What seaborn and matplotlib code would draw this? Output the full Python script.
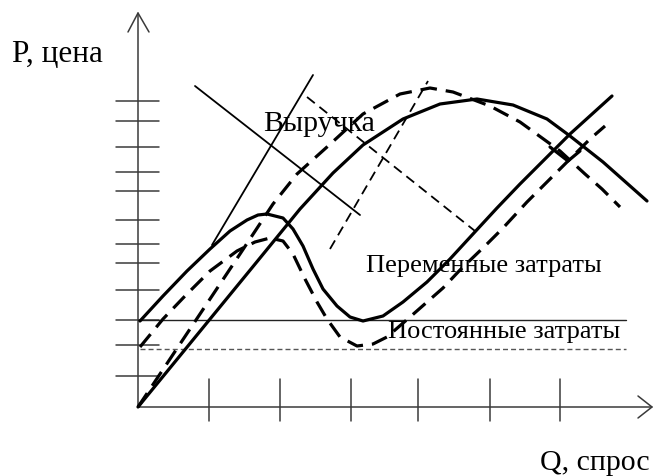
import numpy as np
import pandas as pd
import matplotlib
matplotlib.use("Agg")
import matplotlib.pyplot as plt
import seaborn as sns

sns.set_theme(style="white")
plt.rcParams['font.family'] = ['Liberation Serif', 'DejaVu Serif']

# revenue, solid and dashed
rev_q = [0, 12.2, 16.2, 19.5, 22.5, 26.5, 30.2, 33.9, 37.5, 40.9, 43.2, 46.5, 50.9]
rev_p = [0, 14.9, 19.8, 23.4, 26.2, 28.8, 30.3, 30.8, 30.2, 28.8, 27.1, 24.5, 20.6]
rev2_q = [0, 6.2, 10.2, 13.5, 15.9, 18.9, 22.5, 26.2, 29.2, 31.5, 35.2, 38.2, 42.2, 44.7, 46.4, 48.2]
rev2_p = [0, 9.3, 15.3, 20.3, 23.3, 26.0, 29.3, 31.3, 31.9, 31.5, 30.1, 28.5, 25.6, 23.3, 21.8, 20.0]

# total costs, solid and dashed
tc_q = [0.2, 2.5, 4.9, 7.2, 9.2, 10.9, 12.0, 12.9, 14.5, 15.5, 16.5, 17.5, 18.5, 19.9, 21.2, 22.5,
        24.5, 26.5, 28.9, 31.2, 33.5, 35.9, 38.2, 40.7, 43.2, 47.4]
tc_p = [8.6, 11.1, 13.6, 15.8, 17.6, 18.7, 19.2, 19.3, 18.9, 17.8, 16.1, 13.8, 11.8, 10.1, 9.0, 8.6,
        9.1, 10.5, 12.5, 14.8, 17.3, 19.9, 22.3, 24.8, 27.3, 31.1]
tc2_q = [0.2, 2.5, 4.7, 7.2, 9.9, 11.7, 13.2, 14.5, 15.5, 16.7, 17.9, 18.9, 20.2, 21.9, 23.5,
         24.9, 27.2, 30.5, 32.2, 34.9, 36.5, 38.9, 41.5, 45.2, 46.7]
tc2_p = [6.0, 8.8, 11.1, 13.6, 15.6, 16.5, 16.9, 16.6, 15.3, 12.8, 10.5, 8.8, 7.0, 6.1, 6.3,
         7.0, 9.0, 11.9, 13.7, 16.3, 17.9, 20.5, 23.1, 26.8, 28.1]

# fixed costs
fc_level = 8.7
fc2_level = 5.8
fc_end = 48.8

# thin construction lines (q0, q1, p0, p1)
tan_solid = [7.4, 17.5, 16.2, 33.2]
diag_solid = [5.7, 22.2, 32.1, 19.2]
tan_dash = [19.2, 29.0, 15.8, 32.6]
diag_dash = [16.9, 33.7, 31.0, 17.6]
corner_q = [41.2, 43.0, 44.2]
corner_p = [26.0, 24.6, 25.6]

xticks = [7.1, 14.2, 21.3, 28.0, 35.2, 42.2]
yticks = [30.6, 28.6, 26.0, 23.5, 21.6, 18.7, 16.3, 14.4, 11.7, 8.7, 6.2, 3.1]
x_end = 51.4
y_end = 39.4

fig = plt.figure(figsize=(6.55, 4.77), dpi=100)
ax = fig.add_axes([0, 0, 1, 1])
ax.set_xlim(-13.8, 51.7)
ax.set_ylim(-6.9, 40.8)
ax.axis('off')

axc = '#3a3a3a'
# axes with open arrows
ax.plot([0, 0], [0, y_end], color=axc, lw=1.1)
ax.plot([0, x_end], [0, 0], color=axc, lw=1.1)
ax.plot([-1.0, 0, 1.1], [y_end - 1.9, y_end, y_end - 1.9], color=axc, lw=1.1)
ax.plot([x_end - 1.4, x_end, x_end - 1.4], [1.1, 0, -1.1], color=axc, lw=1.1)
for t in xticks:
    ax.plot([t, t], [-1.4, 2.8], color=axc, lw=1.1)
for t in yticks:
    ax.plot([-2.2, 2.1], [t, t], color=axc, lw=1.1)

# fixed costs
ax.plot([0, fc_end], [fc_level, fc_level], color='#222222', lw=1.0)
ax.plot([0.2, fc_end], [fc2_level, fc2_level], color='#555555', lw=1.0,
        linestyle=(0, (3.6, 2.2)))

thick = 2.3
df_rev = pd.DataFrame({'q': rev_q, 'p': rev_p})
df_rev2 = pd.DataFrame({'q': rev2_q, 'p': rev2_p})
df_tc = pd.DataFrame({'q': tc_q, 'p': tc_p})
df_tc2 = pd.DataFrame({'q': tc2_q, 'p': tc2_p})

sns.lineplot(data=df_rev, x='q', y='p', ax=ax, color='black', lw=thick, sort=False, estimator=None)
sns.lineplot(data=df_tc, x='q', y='p', ax=ax, color='black', lw=thick, sort=False, estimator=None)
l1 = sns.lineplot(data=df_rev2, x='q', y='p', ax=ax, color='black', lw=thick, sort=False,
                  estimator=None).lines[-1]
l1.set_linestyle((0, (5.2, 2.8)))
l2 = sns.lineplot(data=df_tc2, x='q', y='p', ax=ax, color='black', lw=thick, sort=False,
                  estimator=None).lines[-1]
l2.set_linestyle((0, (5.2, 2.8)))

thin = 1.3
ax.plot(tan_solid[:2], tan_solid[2:], color='black', lw=thin)
ax.plot(diag_solid[:2], diag_solid[2:], color='black', lw=thin)
ax.plot(tan_dash[:2], tan_dash[2:], color='black', lw=thin, linestyle=(0, (5.5, 3.3)))
ax.plot(diag_dash[:2], diag_dash[2:], color='black', lw=thin, linestyle=(0, (5.5, 3.3)))
ax.plot(corner_q, corner_p, color='black', lw=thick)

ax.text(-12.6, 34.6, 'P, цена', fontsize=22.5, ha='left', va='baseline', color='black')
ax.text(12.5, 27.7, 'Выручка', fontsize=21.5, ha='left', va='baseline', color='black')
ax.text(22.8, 13.6, 'Переменные затраты', fontsize=19, ha='left', va='baseline', color='black')
ax.text(25.0, 7.0, 'Постоянные затраты', fontsize=19, ha='left', va='baseline', color='black')
ax.text(40.2, -6.2, 'Q, спрос', fontsize=21.5, ha='left', va='baseline', color='black')

fig.savefig('out.png', dpi=100)
